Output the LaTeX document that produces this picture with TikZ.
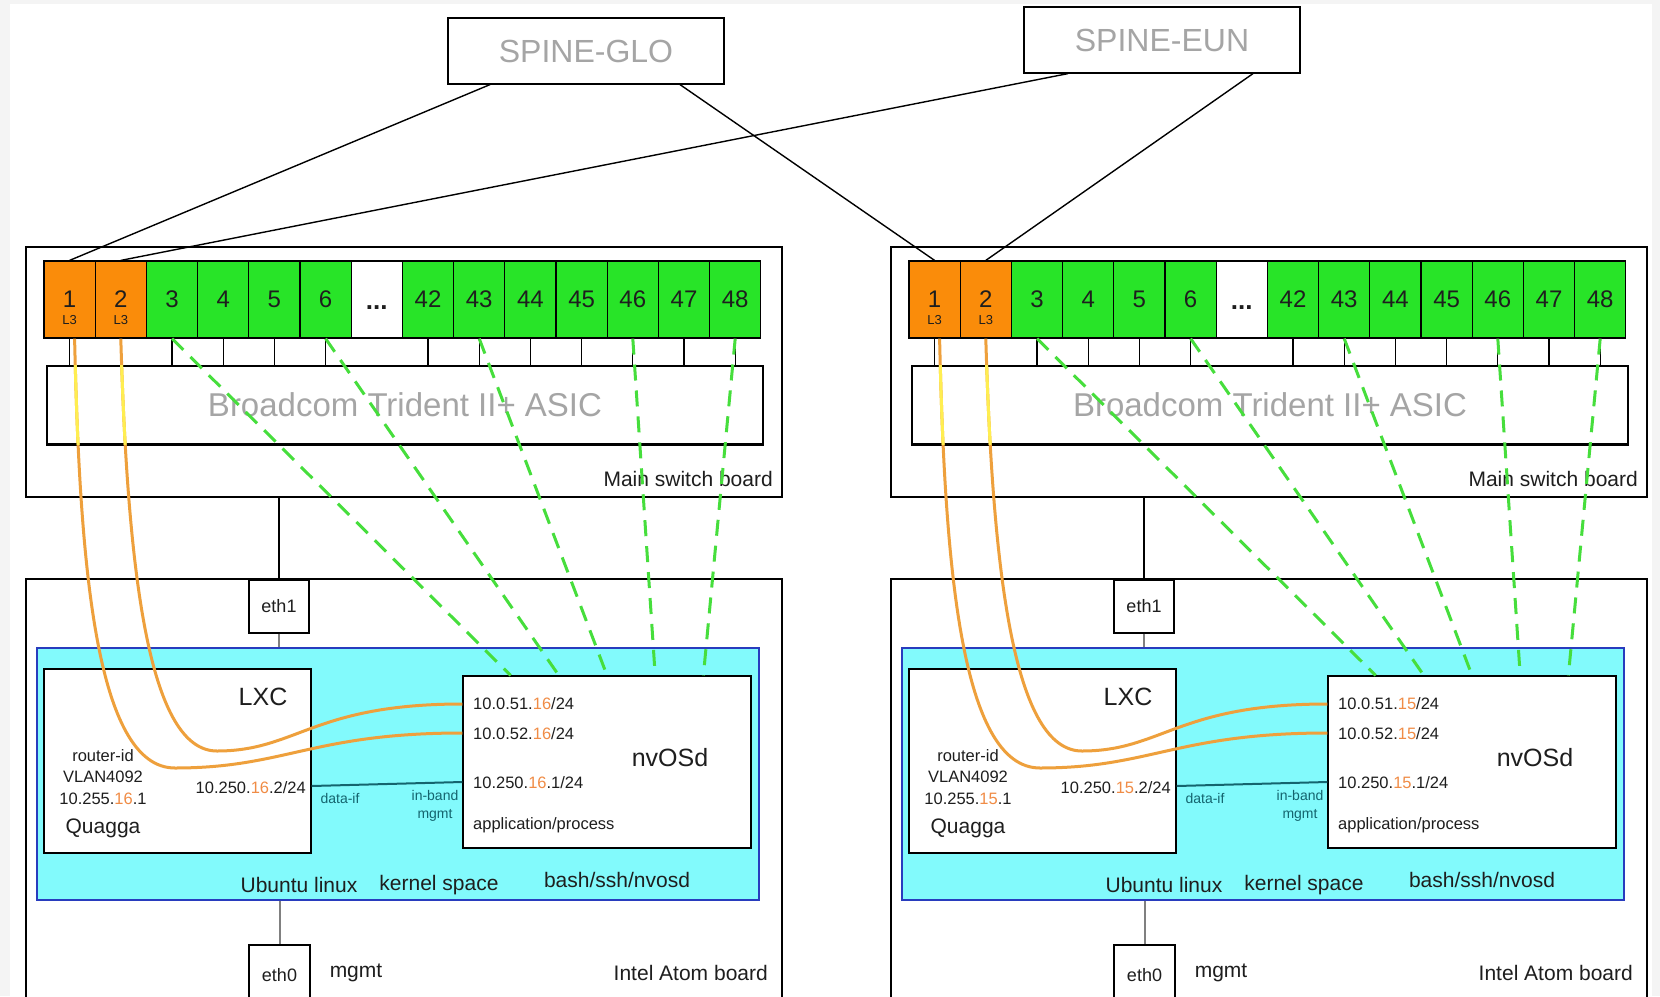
\documentclass[tikz,border=0pt]{standalone}
\usepackage{fontspec}
\setmainfont{Liberation Sans}
\usetikzlibrary{positioning}
\usetikzlibrary{calc}
\definecolor{pagegray}{RGB}{244,244,244}
\definecolor{ink}{RGB}{30,30,30}
\definecolor{labelgray}{RGB}{165,165,165}
\definecolor{portorange}{RGB}{250,140,10}
\definecolor{portgreen}{RGB}{40,228,40}
\definecolor{linkorange}{RGB}{238,160,60}
\definecolor{linkyellow}{RGB}{255,238,80}
\definecolor{vlangreen}{RGB}{70,222,60}
\definecolor{kerncyan}{RGB}{130,250,252}
\definecolor{kernblue}{RGB}{40,60,190}
\definecolor{dataif}{RGB}{20,100,110}
\definecolor{octet}{RGB}{240,140,70}
\tikzset{
    switch diagram/.style={
            x=1pt,y=-1pt,
            every node/.style={text=ink,inner sep=0pt},
            box/.style={draw,line width=1.2pt},
            spine/.style={box,minimum width=276pt,minimum height=66pt,text=labelgray,font=\fontsize{32}{32}\selectfont},
            port/.style={box,fill=portgreen,minimum width=51.2pt,minimum height=77pt,font=\fontsize{24}{24}\selectfont},
            l3port/.style={port,fill=portorange},
            l3tag/.style={font=\fontsize{13}{13}\selectfont,yshift=-21pt},
            dotstag/.style={font=\fontsize{26}{26}\bfseries,yshift=-8pt},
            asic/.style={box,fill=white,minimum width=716pt,minimum height=78pt,text=labelgray,font=\fontsize{33}{33}\selectfont},
            kernel/.style={draw=kernblue,line width=1.2pt,fill=kerncyan},
            ethbox/.style={box,fill=white,font=\fontsize{18}{18}\selectfont},
            tag/.style={font=\fontsize{16.5}{16.5}\selectfont},
            midtag/.style={font=\fontsize{21}{21}\selectfont},
            bigtag/.style={font=\fontsize{25}{25}\selectfont},
            iftag/.style={text=dataif,align=center,font=\fontsize{14}{18}\selectfont},
            uplink/.style={line width=1.4pt},
            l3link/.style={draw=linkorange,line width=3pt},
            l3glow/.style={draw=linkyellow,line width=3pt},
            vlan/.style={draw=vlangreen,line width=3pt,dash pattern=on 16pt off 10pt},
            datalink/.style={draw=dataif,line width=2pt},
            mgmtlink/.style={draw=gray,line width=2pt}
        }
    }
\begin{document}
\begin{tikzpicture}[switch diagram]
    \useasboundingbox (0,0) rectangle (1660,996);
    \clip (0,0) rectangle (1660,996);
    \fill[pagegray] (0,0) rectangle (1660,996);
    \fill[white] (10,4) rectangle (1652,996);

    \node[spine] (glo) at (586,51) {SPINE-GLO};
    \node[spine] (eun) at (1162,40) {SPINE-EUN};

    \foreach \s/\dx/\ip in {L/0/16,R/865/15} {
    \begin{scope}[xshift=\dx pt]
        % main switch board
        \node[box,minimum width=756pt,minimum height=250pt] (msb\s) at (404,372) {};
        \node[midtag,anchor=east] at (773,479) {Main switch board};
        \node[asic] (asic\s) at (405,405) {Broadcom Trident II+ ASIC};
        \draw[line width=2.5pt] (asic\s.south west) -- (asic\s.south east);
        \foreach \n in {1,2}
            \node[l3port,label={[l3tag]center:L3}] (p\s\n) at ({44+51.2*(\n-0.5)},299.5) {\n};
        \foreach \n in {3,...,6}
            \node[port] (p\s\n) at ({44+51.2*(\n-0.5)},299.5) {\n};
        \node[port,fill=white,label={[dotstag]center:...}] (gap\s) at ({44+51.2*6.5},299.5) {};
        \foreach \n in {42,...,48}
            \node[port] (p\s\n) at ({44+51.2*(\n-34.5)},299.5) {\n};
        \foreach \n in {1,...,6}
            \draw[box] (p\s\n.south) -- (p\s\n.south |- asic\s.north);
        \foreach \n in {42,...,48}
            \draw[box] (p\s\n.south) -- (p\s\n.south |- asic\s.north);

        % intel atom board
        \node[box,minimum width=756pt,minimum height=430pt] (atom\s) at (404,794) {};
        \node[ethbox,minimum width=60pt,minimum height=53pt] (eth1\s) at (279,606.5) {eth1};
        \node[kernel,minimum width=722pt,minimum height=252pt] (kern\s) at (398,774) {};
        \node[box,fill=white,minimum width=267pt,minimum height=184pt] (lxc\s) at (177.5,761) {};
        \node[box,fill=white,minimum width=288pt,minimum height=172pt] (nvosd\s) at (607,762) {};
        \node[ethbox,minimum width=61pt,minimum height=60pt] (eth0\s) at (279.5,975) {eth0};
        \draw[box] (msb\s.south -| eth1\s.north) -- (eth1\s.north);
        \draw[mgmtlink] (eth1\s.south) -- (eth1\s.south |- kern\s.north);
        \draw[mgmtlink] (kern\s.south -| eth0\s.north) -- (eth0\s.north);

        \node[bigtag] at (263,697) {LXC};
        \node[tag] at (103,756) {router-id};
        \node[tag] at (103,777) {VLAN4092};
        \node[tag] at (103,799) {10.255.\textcolor{octet}{\ip}.1};
        \node[midtag] at (103,828) {Quagga};
        \node[tag,anchor=east] at (306,788) {10.250.\textcolor{octet}{\ip}.2/24};
        \node[iftag] at (340,798) {data-if};
        \node[iftag] at (435,806) {in-band\\mgmt};
        \node[tag,anchor=west] at (473,704) {10.0.51.\textcolor{octet}{\ip}/24};
        \node[tag,anchor=west] at (473,734) {10.0.52.\textcolor{octet}{\ip}/24};
        \node[tag,anchor=west] at (473,783) {10.250.\textcolor{octet}{\ip}.1/24};
        \node[tag,anchor=west] at (473,825) {application/process};
        \node[bigtag] at (670,758) {nvOSd};
        \node[midtag] at (299,885) {Ubuntu linux};
        \node[midtag] at (439,885) {kernel space};
        \node[midtag] at (617,880) {bash/ssh/nvosd};
        \node[midtag] at (356,973) {mgmt};
        \node[midtag,anchor=east] at (768,973) {Intel Atom board};

        % links
        \draw[datalink] ([yshift=-25pt]lxc\s.east) -- ([yshift=-20pt]nvosd\s.west);
        \coordinate (dipA\s) at (175,768);
        \coordinate (dipB\s) at (217,751);
        \draw[l3link] ([xshift=5pt]p\s1.south) .. controls +(5,222) and +(-80,0) .. (dipA\s)
            .. controls +(110,0) and +(-150,0) .. ([yshift=29pt]nvosd\s.west);
        \draw[l3link] (p\s2.south) .. controls +(7,242) and +(-67,0) .. (dipB\s)
            .. controls +(80,0) and +(-150,0) .. ([yshift=58pt]nvosd\s.west);
        \begin{scope}
            \clip (asic\s.south west) rectangle (asic\s.north east);
            \draw[l3glow] ([xshift=5pt]p\s1.south) .. controls +(5,222) and +(-80,0) .. (dipA\s);
            \draw[l3glow] (p\s2.south) .. controls +(7,242) and +(-67,0) .. (dipB\s);
        \end{scope}
        \foreach \n/\k in {3/1,6/2,43/3,46/4,48/5}
            \draw[vlan] (p\s\n.south) -- ($(nvosd\s.north west)!\k/6!(nvosd\s.north east)$);
    \end{scope}
    }

    \draw[uplink] ([xshift=-96pt]glo.south) -- (pL1.north);
    \draw[uplink] ([xshift=94pt]glo.south) -- (pR1.north);
    \draw[uplink] ([xshift=-94pt]eun.south) -- (pL2.north);
    \draw[uplink] ([xshift=91pt]eun.south) -- (pR2.north);
\end{tikzpicture}
\end{document}
